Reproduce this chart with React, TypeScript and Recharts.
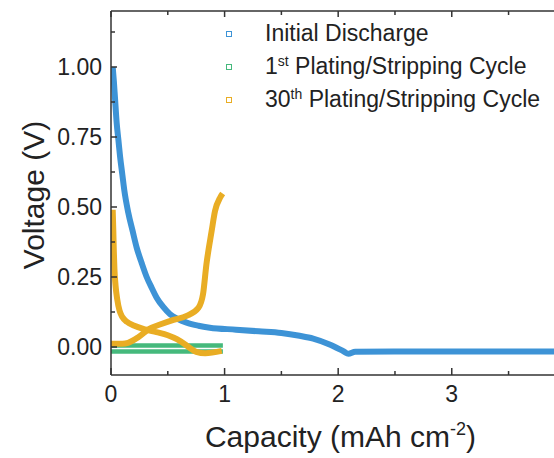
import { ComposedChart, Line, XAxis, YAxis, Legend, Label } from 'recharts';

const FONT = '"Liberation Sans", Arial, Helvetica, sans-serif';
const AXIS = '#333333';
const TEXT = '#222222';
const BLUE = '#3d93d6';
const GREEN = '#45b97c';
const ORANGE = '#e9ad24';

// axis ticks (halves / eighths are the unlabelled minor ticks)
const xTicks = [0, 0.5, 1, 1.5, 2, 2.5, 3, 3.5];
const yTicks = [0, 0.125, 0.25, 0.375, 0.5, 0.625, 0.75, 0.875, 1, 1.125];

// initial discharge
const dischargeCap = [0.015, 0.025, 0.035, 0.05, 0.065, 0.08, 0.1, 0.117, 0.152, 0.19, 0.226, 0.27, 0.314, 0.36, 0.402, 0.46, 0.52, 0.59, 0.666, 0.77, 0.87, 1.1, 1.3, 1.5, 1.66, 1.78, 1.93, 2.05, 2.09, 2.15, 2.5, 3, 3.5, 3.9];
const dischargeV = [1.0, 0.95, 0.89, 0.8, 0.74, 0.68, 0.615, 0.56, 0.48, 0.415, 0.355, 0.3, 0.25, 0.21, 0.176, 0.143, 0.117, 0.1, 0.087, 0.076, 0.069, 0.062, 0.056, 0.05, 0.04, 0.03, 0.008, -0.016, -0.024, -0.017, -0.016, -0.016, -0.016, -0.016];

// 1st plating / stripping cycle
const firstCap = [0, 0.985];
const firstStripV = [0.005, 0.005];
const firstPlateV = [-0.016, -0.016];

// 30th cycle, plating branch
const thirtiethPlateCap = [0.015, 0.02, 0.025, 0.03, 0.04, 0.055, 0.075, 0.1, 0.14, 0.2, 0.3, 0.4, 0.5, 0.58, 0.65, 0.7, 0.75, 0.83, 0.975];
const thirtiethPlateV = [0.49, 0.42, 0.34, 0.28, 0.22, 0.17, 0.13, 0.107, 0.09, 0.077, 0.063, 0.053, 0.042, 0.028, 0.01, -0.005, -0.017, -0.022, -0.014];

// 30th cycle, stripping branch
const thirtiethStripCap = [0, 0.1, 0.15, 0.24, 0.33, 0.45, 0.55, 0.666, 0.77, 0.81, 0.84, 0.886, 0.916, 0.96, 0.983];
const thirtiethStripV = [0.012, 0.012, 0.015, 0.035, 0.063, 0.083, 0.097, 0.111, 0.14, 0.188, 0.295, 0.414, 0.486, 0.533, 0.548];

const legendItems = [
  { lead: 'Initial Discharge', sup: '', rest: '', color: BLUE },
  { lead: '1', sup: 'st', rest: ' Plating/Stripping Cycle', color: GREEN },
  { lead: '30', sup: 'th', rest: ' Plating/Stripping Cycle', color: ORANGE },
];

const zip = (xs: number[], ys: number[]) => xs.map((x, i) => ({ cap: x, v: ys[i] }));

const BottomTick = (props: any) => {
  const { x, y, payload } = props;
  const major = Number.isInteger(payload.value);
  return (
    <g>
      <line x1={x} x2={x} y1={y} y2={y - (major ? 7 : 4)} stroke={AXIS} strokeWidth={1.5} />
      {major && (
        <text x={x} y={y + 27} textAnchor="middle" fontSize={23} fontFamily={FONT} fill={TEXT}>
          {payload.value}
        </text>
      )}
    </g>
  );
};

const TopTick = (props: any) => {
  const { x, y, payload } = props;
  const major = Number.isInteger(payload.value);
  return <line x1={x} x2={x} y1={y} y2={y + (major ? 6 : 4)} stroke={AXIS} strokeWidth={1.5} />;
};

const LeftTick = (props: any) => {
  const { x, y, payload } = props;
  const major = Number.isInteger(payload.value * 4);
  return (
    <g>
      <line x1={x} x2={x + (major ? 6 : 4)} y1={y} y2={y} stroke={AXIS} strokeWidth={1.5} />
      {major && (
        <text x={x - 9} y={y + 8} textAnchor="end" fontSize={23} fontFamily={FONT} fill={TEXT}>
          {payload.value.toFixed(2)}
        </text>
      )}
    </g>
  );
};

const XTitle = (props: any) => {
  const vb = props.viewBox;
  return (
    <text x={vb.x + vb.width / 2 + 8} y={vb.y + 72} textAnchor="middle" fontSize={30} fontFamily={FONT} fill={TEXT}>
      Capacity (mAh cm
      <tspan fontSize={18} dy={-12}>-2</tspan>
      <tspan dy={12}>)</tspan>
    </text>
  );
};

const YTitle = (props: any) => {
  const vb = props.viewBox;
  const cx = vb.x + 44;
  const cy = vb.y + vb.height / 2 + 2;
  return (
    <text x={cx} y={cy} transform={`rotate(-90 ${cx} ${cy})`} textAnchor="middle" fontSize={30} fontFamily={FONT} fill={TEXT}>
      Voltage (V)
    </text>
  );
};

const renderLegend = () => (
  <div style={{ fontFamily: FONT, fontSize: 23, color: TEXT, whiteSpace: 'nowrap' }}>
    {legendItems.map((item) => (
      <div key={item.color} style={{ height: 33, lineHeight: '33px', position: 'relative', paddingLeft: 43 }}>
        <span style={{ position: 'absolute', left: 4, top: 14, width: 4, height: 4, border: `1px solid ${item.color}` }} />
        {item.lead}
        {item.sup && <span style={{ fontSize: 14, position: 'relative', top: -8 }}>{item.sup}</span>}
        {item.rest}
      </div>
    ))}
  </div>
);

export default function App() {
  const axisLine = { stroke: AXIS, strokeWidth: 1.5 };
  return (
    <div style={{ position: 'absolute', left: 0, top: 0, background: '#fff' }}>
      <ComposedChart width={554} height={458} margin={{ top: 0, right: 0, bottom: 0, left: 0 }}>
        <XAxis
          xAxisId="b" type="number" dataKey="cap" domain={[0, 3.9]} allowDataOverflow ticks={xTicks} interval={0}
          height={83} tickSize={0} tickMargin={0} tickLine={false} axisLine={axisLine} tick={<BottomTick />}
        >
          <Label content={<XTitle />} />
        </XAxis>
        <XAxis
          xAxisId="t" orientation="top" type="number" dataKey="cap" domain={[0, 3.9]} allowDataOverflow ticks={xTicks} interval={0}
          height={11} tickSize={0} tickMargin={0} tickLine={false} axisLine={axisLine} tick={<TopTick />}
        />
        <YAxis
          type="number" dataKey="v" domain={[-0.1, 1.2]} allowDataOverflow ticks={yTicks} interval={0}
          width={111} tickSize={0} tickMargin={0} tickLine={false} axisLine={axisLine} tick={<LeftTick />}
        >
          <Label content={<YTitle />} />
        </YAxis>
        <Legend
          layout="horizontal" verticalAlign="middle" align="center" content={renderLegend}
          wrapperStyle={{ left: 222, top: 17, width: 330 }}
        />
        <Line xAxisId="b" data={zip(firstCap, firstStripV)} dataKey="v" type="linear" stroke={GREEN} strokeWidth={4.5} dot={false} isAnimationActive={false} />
        <Line xAxisId="b" data={zip(firstCap, firstPlateV)} dataKey="v" type="linear" stroke={GREEN} strokeWidth={4.5} dot={false} isAnimationActive={false} />
        <Line xAxisId="b" data={zip(dischargeCap, dischargeV)} dataKey="v" type="monotone" stroke={BLUE} strokeWidth={6} dot={false} isAnimationActive={false} />
        <Line xAxisId="b" data={zip(thirtiethPlateCap, thirtiethPlateV)} dataKey="v" type="monotone" stroke={ORANGE} strokeWidth={6} dot={false} isAnimationActive={false} />
        <Line xAxisId="b" data={zip(thirtiethStripCap, thirtiethStripV)} dataKey="v" type="monotone" stroke={ORANGE} strokeWidth={6} dot={false} isAnimationActive={false} />
      </ComposedChart>
    </div>
  );
}
